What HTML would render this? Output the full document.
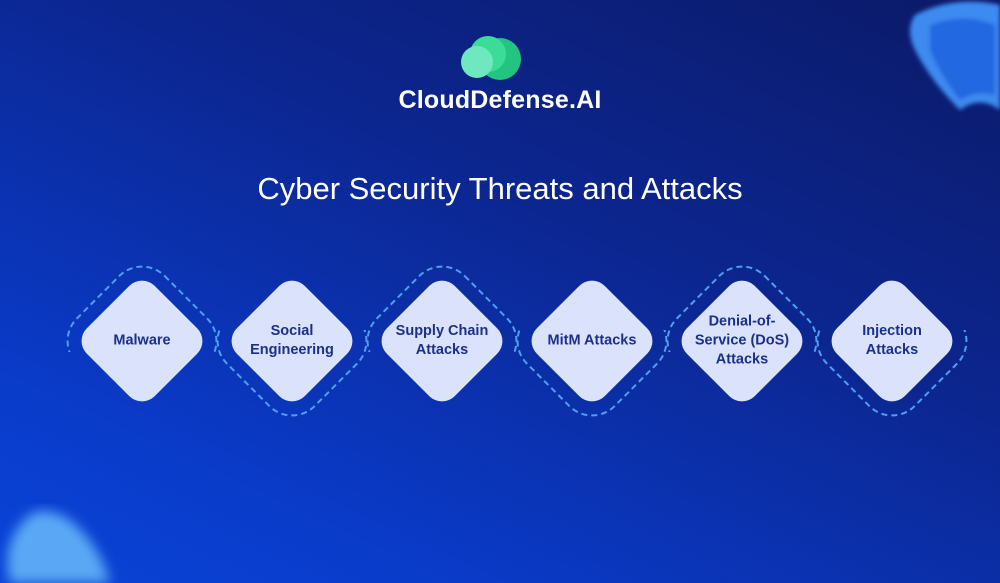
<!DOCTYPE html>
<html><head><meta charset="utf-8"><style>
html,body{margin:0;padding:0}
body{width:1000px;height:583px;overflow:hidden;position:relative;font-family:"Liberation Sans",sans-serif;
background:linear-gradient(205deg,#0b1a68 0%,#0c2690 40%,#0a3bc9 80%,#0a44d8 100%);}
.t{position:absolute;left:0;width:1000px;text-align:center;color:#fff}
.lbl{position:absolute;width:130px;text-align:center;color:#1b2f8c;font-weight:bold;font-size:14.5px;line-height:19px;transform:translate(-50%,-50%)}
</style></head><body>
<svg width="1000" height="583" style="position:absolute;left:0;top:0">
<defs>
<filter id="b"><feGaussianBlur stdDeviation="6"/></filter>
<filter id="b2"><feGaussianBlur stdDeviation="2"/></filter>
<clipPath id="top"><rect x="0" y="0" width="1000" height="352"/></clipPath>
<clipPath id="bot"><rect x="0" y="330" width="1000" height="300"/></clipPath>
</defs>
<!-- shields -->
<g filter="url(#b2)">
<path d="M915 15 Q955 -5 1000 5 L1000 110 Q980 95 960 110 Q930 80 915 50 Q905 30 915 15Z" fill="#3d8af0"/>
<path d="M930 25 Q965 12 995 25 L995 95 Q975 90 960 100 Q940 75 930 50Z" fill="#2467e0"/>
</g>
<g filter="url(#b)">
<path d="M10 583 Q0 540 30 515 Q45 505 70 520 Q100 545 110 583Z" fill="#5aa8f5"/>
</g>
<!-- dashed arcs -->
<g fill="none" stroke="#4fa0f0" stroke-width="2" stroke-dasharray="6 4">
<g clip-path="url(#top)"><rect x="80" y="279" width="124" height="124" rx="32" transform="rotate(45 142 341)"/></g>
<g clip-path="url(#bot)"><rect x="230" y="279" width="124" height="124" rx="32" transform="rotate(45 292 341)"/></g>
<g clip-path="url(#top)"><rect x="380" y="279" width="124" height="124" rx="32" transform="rotate(45 442 341)"/></g>
<g clip-path="url(#bot)"><rect x="530" y="279" width="124" height="124" rx="32" transform="rotate(45 592 341)"/></g>
<g clip-path="url(#top)"><rect x="680" y="279" width="124" height="124" rx="32" transform="rotate(45 742 341)"/></g>
<g clip-path="url(#bot)"><rect x="830" y="279" width="124" height="124" rx="32" transform="rotate(45 892 341)"/></g>
</g>
<g fill="#dae3fb">
<rect x="94" y="293" width="96" height="96" rx="18" transform="rotate(45 142 341)"/>
<rect x="244" y="293" width="96" height="96" rx="18" transform="rotate(45 292 341)"/>
<rect x="394" y="293" width="96" height="96" rx="18" transform="rotate(45 442 341)"/>
<rect x="544" y="293" width="96" height="96" rx="18" transform="rotate(45 592 341)"/>
<rect x="694" y="293" width="96" height="96" rx="18" transform="rotate(45 742 341)"/>
<rect x="844" y="293" width="96" height="96" rx="18" transform="rotate(45 892 341)"/>
</g>
<!-- logo cloud -->
<circle cx="500" cy="59" r="21" fill="#22c47f"/>
<circle cx="488" cy="54" r="18" fill="#3bdc98"/>
<circle cx="477" cy="62" r="16" fill="#6fe8c0"/>
</svg>
<div class="t" style="top:86px;font-size:25px;font-weight:bold;letter-spacing:0.2px">CloudDefense.AI</div>
<div class="t" style="top:171px;font-size:31px">Cyber Security Threats and Attacks</div>
<div class="lbl" style="left:142px;top:341px">Malware</div>
<div class="lbl" style="left:292px;top:341px">Social<br>Engineering</div>
<div class="lbl" style="left:442px;top:341px">Supply Chain<br>Attacks</div>
<div class="lbl" style="left:592px;top:341px">MitM Attacks</div>
<div class="lbl" style="left:742px;top:341px">Denial-of-<br>Service (DoS)<br>Attacks</div>
<div class="lbl" style="left:892px;top:341px">Injection<br>Attacks</div>
</body></html>
